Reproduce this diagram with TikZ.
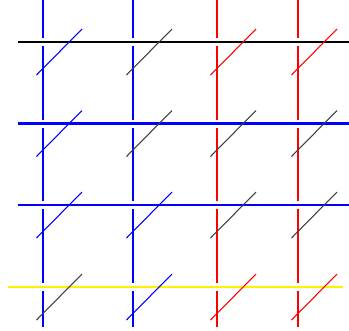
\documentclass[tikz,border=0pt]{standalone}
\usetikzlibrary{calc}
\begin{document}
\begin{tikzpicture}[
    x=0.75pt, y=-0.75pt,
    strand/.style={line width=1.5pt},
    bar/.style={line width=1.5pt, preaction={draw=white, line width=6pt}},
    tick/.style={line width=0.8pt},
]
\useasboundingbox (0,0) rectangle (349,330);

% Vertical strands
\foreach \name/\x/\col/\w in {v1/43/blue/1.5pt, v2/133/blue/1.5pt, v3/217/red/1.5pt, v4/298/red/2.2pt} {
  \coordinate (\name top) at (\x,0);
  \coordinate (\name bot) at (\x,327);
  \draw[strand, draw=\col, line width=\w] (\name top) -- (\name bot);
}

% Horizontal bars (white under-stroke cuts the strands)
\foreach \name/\xa/\xb/\y/\col/\w in {h1/18/349/42/black/1.9pt, h2/18/349/123.5/blue/2.3pt, h3/18/349/205/blue/1.5pt, h4/8/343/287/yellow/1.5pt} {
  \coordinate (\name left) at (\xa,\y);
  \coordinate (\name right) at (\xb,\y);
  \draw[bar, draw=\col, line width=\w] (\name left) -- (\name right);
}

% Crossing ticks
\foreach \r/\c/\col in {1/1/blue, 1/2/black!75, 1/3/red, 1/4/red,
                        2/1/blue, 2/2/black!75, 2/3/black!75, 2/4/black!75,
                        3/1/blue, 3/2/blue, 3/3/black!75, 3/4/black!75,
                        4/1/black!75, 4/2/blue, 4/3/red, 4/4/red} {
  \coordinate (x\r\c) at (v\c top |- h\r left);
  \draw[tick, draw=\col] ($(x\r\c)+(-6.5,33)$) -- ($(x\r\c)+(39,-13)$);
}

\end{tikzpicture}
\end{document}
